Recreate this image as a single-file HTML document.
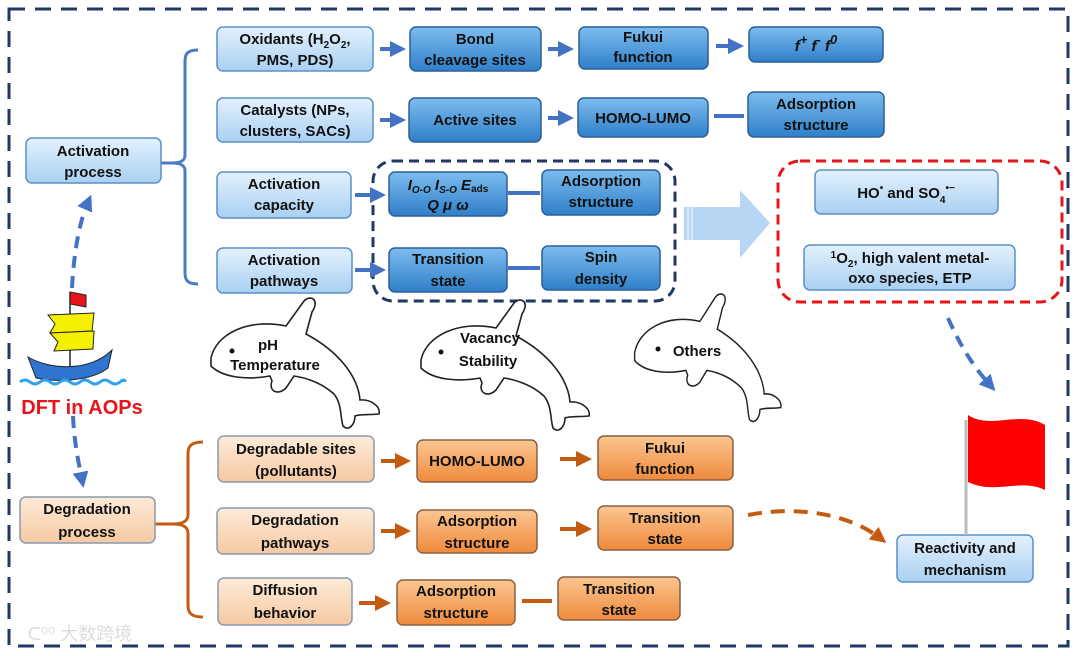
<!DOCTYPE html>
<html><head><meta charset="utf-8"><style>
html,body{margin:0;padding:0;background:#fff;}
svg{display:block;}
text{font-family:"Liberation Sans",sans-serif;font-weight:bold;font-size:15px;fill:#111;text-anchor:middle;}
</style></head><body>
<svg width="1080" height="656" viewBox="0 0 1080 656" xmlns="http://www.w3.org/2000/svg">
<defs>
<linearGradient id="lb" x1="0" y1="0" x2="0" y2="1"><stop offset="0" stop-color="#e3f1fd"/><stop offset="1" stop-color="#a9d0f2"/></linearGradient>
<linearGradient id="db" x1="0" y1="0" x2="0" y2="1"><stop offset="0" stop-color="#7dbcef"/><stop offset="1" stop-color="#2f7fc8"/></linearGradient>
<linearGradient id="lo" x1="0" y1="0" x2="0" y2="1"><stop offset="0" stop-color="#fdebd9"/><stop offset="1" stop-color="#f6c9a2"/></linearGradient>
<linearGradient id="do" x1="0" y1="0" x2="0" y2="1"><stop offset="0" stop-color="#fbc691"/><stop offset="1" stop-color="#ef8a3c"/></linearGradient>
<marker id="ab" markerWidth="4" markerHeight="4" refX="2" refY="2" orient="auto" markerUnits="strokeWidth"><path d="M0,0 L4,2 L0,4 Z" fill="#4472c4"/></marker>
<marker id="ao" markerWidth="4" markerHeight="4" refX="2" refY="2" orient="auto" markerUnits="strokeWidth"><path d="M0,0 L4,2 L0,4 Z" fill="#c55a11"/></marker>
<path id="dol" d="M3,62 C8,38 40,22 78,30 L96,5 C103,-2 112,4 104,16 L98,38 C130,55 150,80 152,104 C162,103 173,110 171,118 C161,119 151,118 147,120 C147,128 141,136 135,130 C132,120 134,108 126,98 C115,88 100,82 86,80 L78,92 C70,100 60,95 64,85 L62,80 C40,84 15,82 3,70 Z" fill="#fff" stroke="#222" stroke-width="1.6"/>
</defs>

<rect x="9" y="9" width="1059" height="637" fill="none" stroke="#1f3864" stroke-width="3" stroke-dasharray="16,10"/>

<path d="M198,50 C186,50 185,55 185,62 L185,155 C185,160 182,163 172,163 C182,163 185,166 185,171 L185,272 C185,279 186,284 198,284" fill="none" stroke="#4a7cc6" stroke-width="3"/>
<line x1="150" y1="163" x2="176" y2="163" stroke="#4a7cc6" stroke-width="3"/>
<path d="M203,442 C190,442 188,447 188,454 L188,515 C188,520 184,524 173,524 C184,524 188,528 188,533 L188,605 C188,612 190,617 203,617" fill="none" stroke="#c55a11" stroke-width="3"/>
<line x1="150" y1="524" x2="178" y2="524" stroke="#c55a11" stroke-width="3"/>

<rect x="373" y="161" width="302" height="140" rx="20" fill="none" stroke="#1f3864" stroke-width="3" stroke-dasharray="10,6"/>
<rect x="778" y="161" width="284" height="141" rx="22" fill="none" stroke="#e8141b" stroke-width="3" stroke-dasharray="10,6"/>

<path d="M684,207 L740,207 L740,190 L770,223 L740,258 L740,240 L684,240 Z" fill="#b7d6f4"/>
<line x1="688" y1="207" x2="688" y2="240" stroke="#fff" stroke-width="1"/>
<line x1="692" y1="207" x2="692" y2="240" stroke="#fff" stroke-width="1"/>

<g stroke="#4472c4" stroke-width="4" fill="none">
<line x1="380" y1="49" x2="398" y2="49" marker-end="url(#ab)"/>
<line x1="548" y1="49" x2="566" y2="49" marker-end="url(#ab)"/>
<line x1="716" y1="46" x2="736" y2="46" marker-end="url(#ab)"/>
<line x1="380" y1="120" x2="398" y2="120" marker-end="url(#ab)"/>
<line x1="548" y1="118" x2="566" y2="118" marker-end="url(#ab)"/>
<line x1="714" y1="116" x2="744" y2="116"/>
<line x1="355" y1="195" x2="378" y2="195" marker-end="url(#ab)"/>
<line x1="508" y1="193" x2="540" y2="193"/>
<line x1="355" y1="270" x2="378" y2="270" marker-end="url(#ab)"/>
<line x1="508" y1="268" x2="540" y2="268"/>
<path d="M72,288 C74,250 80,220 88,202" stroke-dasharray="12,8" marker-end="url(#ab)"/>
<path d="M73,416 C74,440 78,460 82,480" stroke-dasharray="12,8" marker-end="url(#ab)"/>
<path d="M948,318 C960,345 972,365 990,385" stroke-dasharray="12,8" marker-end="url(#ab)"/>
</g>
<g stroke="#c55a11" stroke-width="4" fill="none">
<line x1="381" y1="461" x2="403" y2="461" marker-end="url(#ao)"/>
<line x1="560" y1="459" x2="584" y2="459" marker-end="url(#ao)"/>
<line x1="381" y1="531" x2="403" y2="531" marker-end="url(#ao)"/>
<line x1="560" y1="529" x2="584" y2="529" marker-end="url(#ao)"/>
<line x1="359" y1="603" x2="383" y2="603" marker-end="url(#ao)"/>
<line x1="522" y1="601" x2="552" y2="601"/>
<path d="M748,515 C800,505 850,515 880,538" stroke-dasharray="14,9" marker-end="url(#ao)"/>
</g>

<g stroke-width="1.5">
<rect x="26" y="138" width="135" height="45" rx="6" fill="url(#lb)" stroke="#5b8fc7"/>
<rect x="217" y="27" width="156" height="44" rx="6" fill="url(#lb)" stroke="#5b8fc7"/>
<rect x="410" y="27" width="131" height="44" rx="6" fill="url(#db)" stroke="#2a5f98"/>
<rect x="579" y="27" width="129" height="42" rx="6" fill="url(#db)" stroke="#2a5f98"/>
<rect x="749" y="27" width="134" height="35" rx="6" fill="url(#db)" stroke="#2a5f98"/>
<rect x="217" y="98" width="156" height="44" rx="6" fill="url(#lb)" stroke="#5b8fc7"/>
<rect x="409" y="98" width="132" height="44" rx="6" fill="url(#db)" stroke="#2a5f98"/>
<rect x="578" y="98" width="130" height="39" rx="6" fill="url(#db)" stroke="#2a5f98"/>
<rect x="748" y="92" width="136" height="45" rx="6" fill="url(#db)" stroke="#2a5f98"/>
<rect x="217" y="172" width="134" height="46" rx="6" fill="url(#lb)" stroke="#5b8fc7"/>
<rect x="389" y="172" width="118" height="44" rx="6" fill="url(#db)" stroke="#2a5f98"/>
<rect x="542" y="170" width="118" height="45" rx="6" fill="url(#db)" stroke="#2a5f98"/>
<rect x="217" y="248" width="135" height="45" rx="6" fill="url(#lb)" stroke="#5b8fc7"/>
<rect x="389" y="248" width="118" height="44" rx="6" fill="url(#db)" stroke="#2a5f98"/>
<rect x="542" y="246" width="118" height="44" rx="6" fill="url(#db)" stroke="#2a5f98"/>
<rect x="815" y="170" width="183" height="44" rx="6" fill="url(#lb)" stroke="#5b8fc7"/>
<rect x="804" y="245" width="211" height="45" rx="6" fill="url(#lb)" stroke="#5b8fc7"/>
<rect x="897" y="535" width="136" height="47" rx="6" fill="url(#lb)" stroke="#5b8fc7"/>

<rect x="20" y="497" width="135" height="46" rx="6" fill="url(#lo)" stroke="#8a9ab0"/>
<rect x="218" y="436" width="156" height="46" rx="6" fill="url(#lo)" stroke="#8a9ab0"/>
<rect x="417" y="440" width="120" height="42" rx="6" fill="url(#do)" stroke="#8a6040"/>
<rect x="598" y="436" width="135" height="44" rx="6" fill="url(#do)" stroke="#8a6040"/>
<rect x="217" y="508" width="157" height="46" rx="6" fill="url(#lo)" stroke="#8a9ab0"/>
<rect x="417" y="510" width="120" height="43" rx="6" fill="url(#do)" stroke="#8a6040"/>
<rect x="598" y="506" width="135" height="44" rx="6" fill="url(#do)" stroke="#8a6040"/>
<rect x="218" y="578" width="134" height="47" rx="6" fill="url(#lo)" stroke="#8a9ab0"/>
<rect x="397" y="580" width="118" height="45" rx="6" fill="url(#do)" stroke="#8a6040"/>
<rect x="558" y="577" width="122" height="43" rx="6" fill="url(#do)" stroke="#8a6040"/>
</g>

<text x="93" y="156">Activation</text><text x="93" y="177">process</text>
<text x="295" y="44">Oxidants (H<tspan font-size="10" dy="4">2</tspan><tspan dy="-4">O</tspan><tspan font-size="10" dy="4">2</tspan><tspan dy="-4">,</tspan></text><text x="295" y="65">PMS, PDS)</text>
<text x="475" y="44">Bond</text><text x="475" y="65">cleavage sites</text>
<text x="643" y="42">Fukui</text><text x="643" y="62">function</text>
<text x="816" y="51" font-style="italic" font-family="Liberation Serif,serif" font-size="20">f<tspan font-size="13" dy="-7">+</tspan><tspan dy="7"> f</tspan><tspan font-size="13" dy="-7">-</tspan><tspan dy="7"> f</tspan><tspan font-size="13" dy="-7">0</tspan></text>
<text x="295" y="115">Catalysts (NPs,</text><text x="295" y="136">clusters, SACs)</text>
<text x="475" y="125">Active sites</text>
<text x="643" y="123">HOMO-LUMO</text>
<text x="816" y="109">Adsorption</text><text x="816" y="130">structure</text>
<text x="284" y="189">Activation</text><text x="284" y="210">capacity</text>
<text x="448" y="190" font-style="italic">I<tspan font-size="10" dy="3">O-O</tspan><tspan dy="-3"> I</tspan><tspan font-size="10" dy="3">S-O</tspan><tspan dy="-3"> E</tspan><tspan font-size="10" dy="2" font-style="normal">ads</tspan></text>
<text x="448" y="210" font-style="italic">Q  μ  ω</text>
<text x="601" y="186">Adsorption</text><text x="601" y="207">structure</text>
<text x="284" y="265">Activation</text><text x="284" y="286">pathways</text>
<text x="448" y="264">Transition</text><text x="448" y="286">state</text>
<text x="601" y="262">Spin</text><text x="601" y="284">density</text>
<text x="906" y="198" font-family="Liberation Serif,serif" font-size="18">HO<tspan font-size="10" dy="-7">•</tspan><tspan dy="7" font-family="Liberation Sans,sans-serif" font-size="15"> and </tspan>SO<tspan font-size="10" dy="5">4</tspan><tspan font-size="10" dy="-12">•−</tspan></text>
<text x="910" y="263"><tspan font-size="10" dy="-5">1</tspan><tspan dy="5">O</tspan><tspan font-size="10" dy="4">2</tspan><tspan dy="-4">, high valent metal-</tspan></text>
<text x="910" y="283">oxo species, ETP</text>
<text x="965" y="553">Reactivity and</text><text x="965" y="575">mechanism</text>

<text x="87" y="514">Degradation</text><text x="87" y="537">process</text>
<text x="296" y="454">Degradable sites</text><text x="296" y="476">(pollutants)</text>
<text x="477" y="466">HOMO-LUMO</text>
<text x="665" y="453">Fukui</text><text x="665" y="474">function</text>
<text x="295" y="525">Degradation</text><text x="295" y="548">pathways</text>
<text x="477" y="526">Adsorption</text><text x="477" y="548">structure</text>
<text x="665" y="523">Transition</text><text x="665" y="544">state</text>
<text x="285" y="595">Diffusion</text><text x="285" y="618">behavior</text>
<text x="456" y="596">Adsorption</text><text x="456" y="618">structure</text>
<text x="619" y="594">Transition</text><text x="619" y="615">state</text>

<use href="#dol" transform="translate(208,296)"/>
<use href="#dol" transform="translate(418,298)"/>
<use href="#dol" transform="translate(632,292) scale(0.87,0.98)"/>
<circle cx="232" cy="351" r="2.5" fill="#111"/>
<text x="268" y="350">pH</text><text x="275" y="370">Temperature</text>
<circle cx="441" cy="352" r="2.5" fill="#111"/>
<text x="490" y="343">Vacancy</text><text x="488" y="366">Stability</text>
<circle cx="658" cy="349" r="2.5" fill="#111"/>
<text x="697" y="356">Others</text>

<line x1="70" y1="292" x2="70" y2="368" stroke="#222" stroke-width="1.5"/>
<path d="M70,292 L86,295 L86,307 L70,304 Z" fill="#e8141b" stroke="#222" stroke-width="1"/>
<path d="M48,315 L94,313 L92,331 L50,333 L55,324 Z" fill="#f5f000" stroke="#222" stroke-width="1"/>
<path d="M50,333 L94,331 L93,349 L54,351 L58,342 Z" fill="#f5f000" stroke="#222" stroke-width="1"/>
<path d="M28,357 C50,370 90,372 112,350 L108,368 C90,382 55,382 36,378 Z" fill="#2e74d0" stroke="#222" stroke-width="1"/>
<path d="M20,382 q5,-4 10,0 t10,0 t10,0 t10,0 t10,0 t10,0 t10,0 t10,0 t10,0 t10,0 t5,0" fill="none" stroke="#2ea3e8" stroke-width="3"/>
<text x="82" y="414" style="fill:#e8141b;font-size:20px">DFT in AOPs</text>

<line x1="966" y1="420" x2="966" y2="535" stroke="#bbb" stroke-width="3"/>
<path d="M968,415 C990,430 1020,410 1045,425 L1045,490 C1020,478 995,495 968,482 Z" fill="#ff0000"/>

<text x="80" y="640" style="fill:#ddd;font-size:18px;font-weight:normal;font-family:'Liberation Sans','Noto Sans CJK SC',sans-serif">ᑕ⁰⁰ 大数跨境</text>
</svg>
</body></html>
